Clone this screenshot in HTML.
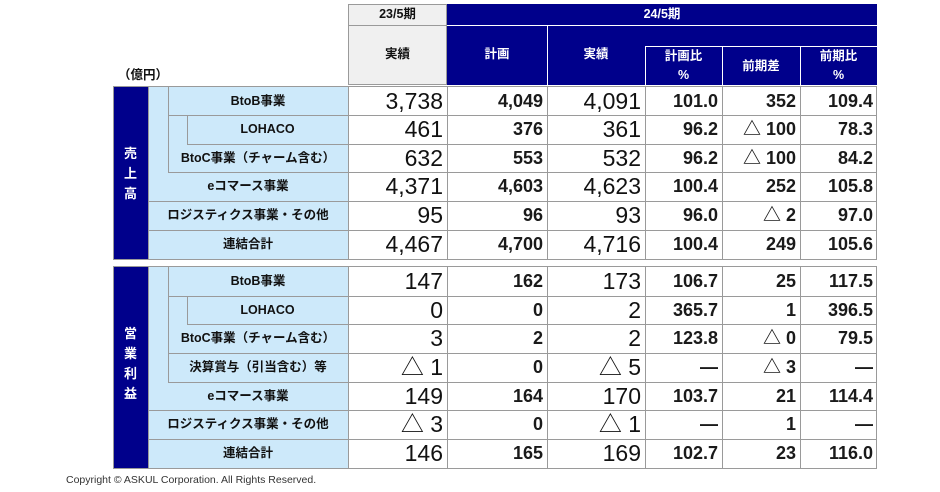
<!DOCTYPE html>
<html><head><meta charset="utf-8"><style>
body{margin:0;width:940px;height:492px;background:#fff;position:relative;overflow:hidden;font-family:"Liberation Sans","Noto Sans CJK JP",sans-serif;color:#111}
div{position:absolute;box-sizing:border-box}
.nv{background:#00008b}
.lb{background:#cde9fa}
.h{background:#9a9a9a;height:1px}
.v{background:#9a9a9a;width:1px}
.hw{background:#fff;height:1px}
.vw{background:#fff;width:1px}
.t{font-size:12.5px;font-weight:bold;text-align:center;white-space:nowrap;line-height:16px}
.w{color:#fff}
.n{text-align:right;white-space:nowrap;font-size:18px;font-weight:bold;line-height:29px;color:#1a1a1a}
.N{text-align:right;white-space:nowrap;font-size:23px;line-height:29px}
</style></head><body>
<!-- header -->
<div style="left:348px;top:4px;width:99px;height:81px;background:#f0f0f0;border:1px solid #9a9a9a"></div>
<div class="nv" style="left:447px;top:4px;width:430px;height:81px"></div>
<div class="hw" style="left:447px;top:25px;width:430px"></div>
<div class="h" style="left:348px;top:25px;width:99px"></div>
<div class="vw" style="left:547px;top:25px;height:60px"></div>
<div class="vw" style="left:645px;top:46px;height:39px"></div>
<div class="vw" style="left:722px;top:46px;height:39px"></div>
<div class="vw" style="left:800px;top:46px;height:39px"></div>
<div class="hw" style="left:645px;top:46px;width:232px"></div>
<div class="t" style="left:348px;top:6px;width:99px">23/5期</div>
<div class="t" style="left:348px;top:46px;width:99px">実績</div>
<div class="t w" style="left:447px;top:6px;width:430px">24/5期</div>
<div class="t w" style="left:447px;top:46px;width:100px">計画</div>
<div class="t w" style="left:547px;top:46px;width:98px">実績</div>
<div class="t w" style="left:645px;top:48px;width:77px">計画比</div>
<div class="t w" style="left:645px;top:67px;width:77px">%</div>
<div class="t w" style="left:722px;top:58px;width:78px">前期差</div>
<div class="t w" style="left:800px;top:48px;width:77px">前期比</div>
<div class="t w" style="left:800px;top:67px;width:77px">%</div>
<div class="t" style="left:118px;top:67px;font-size:12.5px">（億円）</div>

<!-- section 1 -->
<div class="nv" style="left:113px;top:87px;width:35px;height:172px"></div>
<div class="t w" style="left:113px;top:144px;width:35px;line-height:20px;font-size:13px">売<br>上<br>高</div>
<div class="lb" style="left:148px;top:87px;width:200px;height:172px"></div>
<div style="left:113px;top:86px;width:764px;height:174px;border:1px solid #9a9a9a"></div>
<div class="h" style="left:168px;top:115px;width:709px"></div>
<div class="h" style="left:187px;top:144px;width:690px"></div>
<div class="h" style="left:168px;top:172px;width:709px"></div>
<div class="h" style="left:148px;top:201px;width:729px"></div>
<div class="h" style="left:148px;top:230px;width:729px"></div>
<div class="v" style="left:168px;top:87px;height:85px"></div>
<div class="v" style="left:187px;top:115px;height:29px"></div>
<div class="v" style="left:148px;top:87px;height:172px"></div>
<div class="v" style="left:348px;top:87px;height:172px"></div>
<div class="v" style="left:447px;top:87px;height:172px"></div>
<div class="v" style="left:547px;top:87px;height:172px"></div>
<div class="v" style="left:645px;top:87px;height:172px"></div>
<div class="v" style="left:722px;top:87px;height:172px"></div>
<div class="v" style="left:800px;top:87px;height:172px"></div>
<div class="t" style="left:168px;top:93px;width:180px">BtoB事業</div>
<div class="t" style="left:187px;top:121px;width:161px">LOHACO</div>
<div class="t" style="left:168px;top:150px;width:180px">BtoC事業（チャーム含む）</div>
<div class="t" style="left:148px;top:178px;width:200px">eコマース事業</div>
<div class="t" style="left:148px;top:207px;width:200px">ロジスティクス事業・その他</div>
<div class="t" style="left:148px;top:236px;width:200px">連結合計</div>

<!-- section 2 -->
<div class="nv" style="left:113px;top:267px;width:35px;height:201px"></div>
<div class="t w" style="left:113px;top:324px;width:35px;line-height:20px;font-size:13px">営<br>業<br>利<br>益</div>
<div class="lb" style="left:148px;top:267px;width:200px;height:201px"></div>
<div style="left:113px;top:266px;width:764px;height:203px;border:1px solid #9a9a9a"></div>
<div class="h" style="left:168px;top:296px;width:709px"></div>
<div class="h" style="left:187px;top:324px;width:690px"></div>
<div class="h" style="left:168px;top:353px;width:709px"></div>
<div class="h" style="left:168px;top:382px;width:709px"></div>
<div class="h" style="left:148px;top:410px;width:729px"></div>
<div class="h" style="left:148px;top:439px;width:729px"></div>
<div class="v" style="left:168px;top:267px;height:115px"></div>
<div class="v" style="left:187px;top:296px;height:28px"></div>
<div class="v" style="left:148px;top:267px;height:201px"></div>
<div class="v" style="left:348px;top:267px;height:201px"></div>
<div class="v" style="left:447px;top:267px;height:201px"></div>
<div class="v" style="left:547px;top:267px;height:201px"></div>
<div class="v" style="left:645px;top:267px;height:201px"></div>
<div class="v" style="left:722px;top:267px;height:201px"></div>
<div class="v" style="left:800px;top:267px;height:201px"></div>
<div class="t" style="left:168px;top:273px;width:180px">BtoB事業</div>
<div class="t" style="left:187px;top:302px;width:161px">LOHACO</div>
<div class="t" style="left:168px;top:330px;width:180px">BtoC事業（チャーム含む）</div>
<div class="t" style="left:168px;top:359px;width:180px">決算賞与（引当含む）等</div>
<div class="t" style="left:148px;top:388px;width:200px">eコマース事業</div>
<div class="t" style="left:148px;top:416px;width:200px">ロジスティクス事業・その他</div>
<div class="t" style="left:148px;top:445px;width:200px">連結合計</div>

<!-- numbers section1 -->
<div class="N" style="left:348px;top:87px;width:95px">3,738</div>
<div class="n" style="left:447px;top:87px;width:96px">4,049</div>
<div class="N" style="left:547px;top:87px;width:94px">4,091</div>
<div class="n" style="left:645px;top:87px;width:73px">101.0</div>
<div class="n" style="left:722px;top:87px;width:74px">352</div>
<div class="n" style="left:800px;top:87px;width:73px">109.4</div>

<div class="N" style="left:348px;top:115px;width:95px">461</div>
<div class="n" style="left:447px;top:115px;width:96px">376</div>
<div class="N" style="left:547px;top:115px;width:94px">361</div>
<div class="n" style="left:645px;top:115px;width:73px">96.2</div>
<div class="n" style="left:722px;top:115px;width:74px">△ 100</div>
<div class="n" style="left:800px;top:115px;width:73px">78.3</div>

<div class="N" style="left:348px;top:144px;width:95px">632</div>
<div class="n" style="left:447px;top:144px;width:96px">553</div>
<div class="N" style="left:547px;top:144px;width:94px">532</div>
<div class="n" style="left:645px;top:144px;width:73px">96.2</div>
<div class="n" style="left:722px;top:144px;width:74px">△ 100</div>
<div class="n" style="left:800px;top:144px;width:73px">84.2</div>

<div class="N" style="left:348px;top:172px;width:95px">4,371</div>
<div class="n" style="left:447px;top:172px;width:96px">4,603</div>
<div class="N" style="left:547px;top:172px;width:94px">4,623</div>
<div class="n" style="left:645px;top:172px;width:73px">100.4</div>
<div class="n" style="left:722px;top:172px;width:74px">252</div>
<div class="n" style="left:800px;top:172px;width:73px">105.8</div>

<div class="N" style="left:348px;top:201px;width:95px">95</div>
<div class="n" style="left:447px;top:201px;width:96px">96</div>
<div class="N" style="left:547px;top:201px;width:94px">93</div>
<div class="n" style="left:645px;top:201px;width:73px">96.0</div>
<div class="n" style="left:722px;top:201px;width:74px">△ 2</div>
<div class="n" style="left:800px;top:201px;width:73px">97.0</div>

<div class="N" style="left:348px;top:230px;width:95px">4,467</div>
<div class="n" style="left:447px;top:230px;width:96px">4,700</div>
<div class="N" style="left:547px;top:230px;width:94px">4,716</div>
<div class="n" style="left:645px;top:230px;width:73px">100.4</div>
<div class="n" style="left:722px;top:230px;width:74px">249</div>
<div class="n" style="left:800px;top:230px;width:73px">105.6</div>

<!-- numbers section2 -->
<div class="N" style="left:348px;top:267px;width:95px">147</div>
<div class="n" style="left:447px;top:267px;width:96px">162</div>
<div class="N" style="left:547px;top:267px;width:94px">173</div>
<div class="n" style="left:645px;top:267px;width:73px">106.7</div>
<div class="n" style="left:722px;top:267px;width:74px">25</div>
<div class="n" style="left:800px;top:267px;width:73px">117.5</div>

<div class="N" style="left:348px;top:296px;width:95px">0</div>
<div class="n" style="left:447px;top:296px;width:96px">0</div>
<div class="N" style="left:547px;top:296px;width:94px">2</div>
<div class="n" style="left:645px;top:296px;width:73px">365.7</div>
<div class="n" style="left:722px;top:296px;width:74px">1</div>
<div class="n" style="left:800px;top:296px;width:73px">396.5</div>

<div class="N" style="left:348px;top:324px;width:95px">3</div>
<div class="n" style="left:447px;top:324px;width:96px">2</div>
<div class="N" style="left:547px;top:324px;width:94px">2</div>
<div class="n" style="left:645px;top:324px;width:73px">123.8</div>
<div class="n" style="left:722px;top:324px;width:74px">△ 0</div>
<div class="n" style="left:800px;top:324px;width:73px">79.5</div>

<div class="N" style="left:348px;top:353px;width:95px">△ 1</div>
<div class="n" style="left:447px;top:353px;width:96px">0</div>
<div class="N" style="left:547px;top:353px;width:94px">△ 5</div>
<div class="n" style="left:645px;top:353px;width:73px">—</div>
<div class="n" style="left:722px;top:353px;width:74px">△ 3</div>
<div class="n" style="left:800px;top:353px;width:73px">—</div>

<div class="N" style="left:348px;top:382px;width:95px">149</div>
<div class="n" style="left:447px;top:382px;width:96px">164</div>
<div class="N" style="left:547px;top:382px;width:94px">170</div>
<div class="n" style="left:645px;top:382px;width:73px">103.7</div>
<div class="n" style="left:722px;top:382px;width:74px">21</div>
<div class="n" style="left:800px;top:382px;width:73px">114.4</div>

<div class="N" style="left:348px;top:410px;width:95px">△ 3</div>
<div class="n" style="left:447px;top:410px;width:96px">0</div>
<div class="N" style="left:547px;top:410px;width:94px">△ 1</div>
<div class="n" style="left:645px;top:410px;width:73px">—</div>
<div class="n" style="left:722px;top:410px;width:74px">1</div>
<div class="n" style="left:800px;top:410px;width:73px">—</div>

<div class="N" style="left:348px;top:439px;width:95px">146</div>
<div class="n" style="left:447px;top:439px;width:96px">165</div>
<div class="N" style="left:547px;top:439px;width:94px">169</div>
<div class="n" style="left:645px;top:439px;width:73px">102.7</div>
<div class="n" style="left:722px;top:439px;width:74px">23</div>
<div class="n" style="left:800px;top:439px;width:73px">116.0</div>

<div style="left:66px;top:474px;font-size:10.5px;color:#333;white-space:nowrap">Copyright © ASKUL Corporation. All Rights Reserved.</div>
</body></html>
